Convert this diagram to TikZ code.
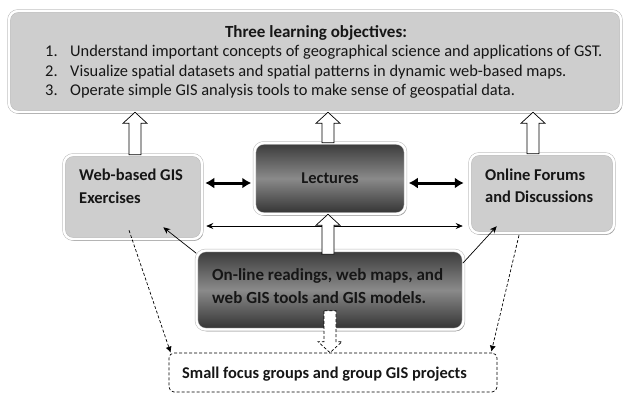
\documentclass[tikz,border=0pt]{standalone}
\usepackage{fontspec}
\setmainfont{Carlito}
\usetikzlibrary{shadows,arrows.meta,calc}
\definecolor{boxgray}{RGB}{206,206,206}
\definecolor{dtop}{RGB}{58,58,58}
\definecolor{dmid}{RGB}{138,138,138}
\definecolor{dbot}{RGB}{50,50,50}
\definecolor{txt}{RGB}{22,22,22}
% vertical hollow block arrow from #2 to #3
\newcommand\vblk[3][]{%
  \draw[blk,#1] let \p1=#2, \p2=#3, \n1={sign(\y2-\y1)} in
  (\x1-6pt,\y1) -- (\x1-6pt,\y2-\n1*11pt) -- (\x1-12pt,\y2-\n1*11pt) -- (\x1,\y2)
  -- (\x1+12pt,\y2-\n1*11pt) -- (\x1+6pt,\y2-\n1*11pt) -- (\x1+6pt,\y1) -- cycle;}
\begin{document}
\begin{tikzpicture}[x=1pt,y=-1pt,
  every node/.style={text=txt},
  basebox/.style={rectangle, rounded corners=9pt, draw=gray!55, line width=0.5pt,
    double=white, double distance=2.4pt,
    drop shadow={shadow xshift=1.2pt, shadow yshift=-1.8pt, opacity=0.45, fill=black}},
  lbox/.style={basebox, fill=boxgray},
  dbox/.style={basebox, top color=dtop, bottom color=dbot, middle color=dmid},
  lbl/.style={font=\bfseries\fontsize{16.5}{23}\selectfont, inner sep=0pt, anchor=base west},
  itm/.style={font=\fontsize{16.4}{20}\selectfont, inner sep=0pt, anchor=base west},
  blk/.style={draw=black, fill=white, line width=0.7pt, line join=miter},
  tharr/.style={line width=3pt, {Latex[length=9pt,width=11pt]}-{Latex[length=9pt,width=11pt]}},
  tnarr/.style={line width=0.7pt, {Stealth[length=7pt,width=6pt]}-{Stealth[length=7pt,width=6pt]}},
  diag/.style={line width=0.7pt, -{Stealth[length=7pt,width=6pt]}},
  dg/.style={line width=0.7pt, dash pattern=on 3pt off 2pt, -{Latex[length=6pt,width=6pt]}}
]
\useasboundingbox (0,0) rectangle (631,394);

% boxes
\node[lbox, minimum width=612pt, minimum height=101pt] (obj) at (315,61.5) {};
\node[lbox, minimum width=138pt, minimum height=84pt] (lb) at (133,197) {};
\node[dbox, minimum width=151pt, minimum height=71pt, font=\bfseries\fontsize{16.5}{18}\selectfont] (lec) at (330,178.5) {Lectures};
\node[lbox, minimum width=144pt, minimum height=79pt] (rb) at (542,193.5) {};
\node[dbox, minimum width=267pt, minimum height=79pt] (bot) at (330,290) {};
\node[draw=black, line width=0.7pt, dash pattern=on 3pt off 2pt, rounded corners=5pt,
      minimum width=328pt, minimum height=39pt] (dbx) at (333,372.5) {};

% texts
\node[font=\bfseries\fontsize{17}{19}\selectfont, inner sep=0pt, anchor=base] (title) at (316,37) {Three learning objectives:};
\node[itm] (n1) at (45,56) {1.};
\node[itm] (t1) at (70,56) {Understand important concepts of geographical science and applications of GST.};
\node[itm] (n2) at (45,76) {2.};
\node[itm] (t2) at (70,76) {Visualize spatial datasets and spatial patterns in dynamic web-based maps.};
\node[itm] (n3) at (45,95) {3.};
\node[itm] (t3) at (70,95) {Operate simple GIS analysis tools to make sense of geospatial data.};

\node[lbl] (lb1) at (79,180) {Web-based GIS};
\node[lbl] (lb2) at (79,203) {Exercises};
\node[lbl] (rb1) at (485,180) {Online Forums};
\node[lbl] (rb2) at (485,202) {and Discussions};
\node[lbl, font=\bfseries\fontsize{17}{23}\selectfont] (bo1) at (212,280) {On-line readings, web maps, and};
\node[lbl, font=\bfseries\fontsize{17}{23}\selectfont] (bo2) at (212,303) {web GIS tools and GIS models.};
\node[lbl, font=\bfseries\fontsize{16.4}{18}\selectfont] (dtx) at (182,378) {Small focus groups and group GIS projects};

% hollow block arrows
\vblk{($(lb.north)+(2,0)$)}{(obj.south)}
\vblk{($(lec.north)+(-2,0)$)}{(obj.south)}
\vblk{($(rb.north)+(-9,0)$)}{(obj.south)}

% thick and thin double arrows
\coordinate (la) at ([yshift=-4.5pt]lec.west);
\coordinate (ra) at ([yshift=-4.5pt]lec.east);
\draw[tharr, shorten <=3pt, shorten >=3pt] (la -| lb.east) -- (la);
\draw[tharr, shorten <=3pt, shorten >=6pt] (ra) -- (ra -| rb.west);
\draw[tnarr, shorten <=4pt, shorten >=7pt] (lb.east |- 0,226) -- (rb.west |- 0,226);

% diagonal thin arrows
\draw[diag] ([shift={(0,3)}]bot.north west) -- ([shift={(-39,-12)}]lb.south east);
\draw[diag] ([shift={(-1,13)}]bot.north east) -- ([shift={(27,-7)}]rb.south west);

% block arrow from bottom to lectures
\vblk{($(bot.north)+(-2,4)$)}{(lec.south)}

% dashed arrows
\draw[dg] ([shift={(-4,-9)}]lb.south) -- ([shift={(2,0)}]dbx.north west);
\draw[dg] ([shift={(-23,2)}]rb.south) -- ([shift={(-6,-1)}]dbx.north east);
\vblk[dash pattern=on 3pt off 2pt]{($(bot.south)+(0,-19)$)}{(dbx.north)}
\end{tikzpicture}
\end{document}
